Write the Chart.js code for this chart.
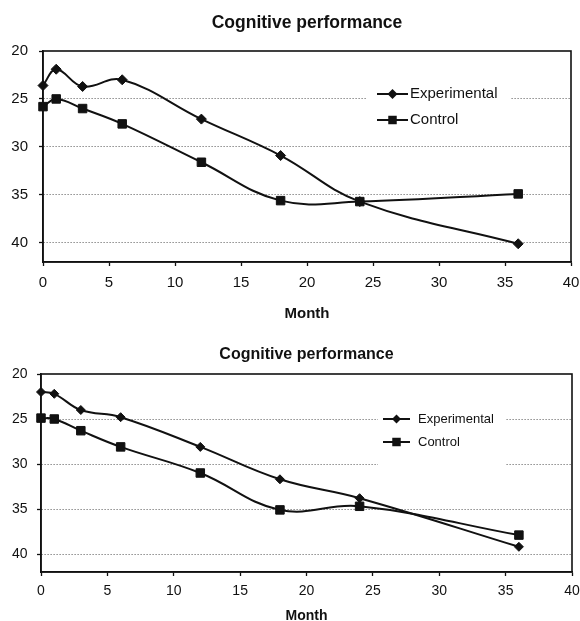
<!DOCTYPE html>
<html>
<head>
<meta charset="utf-8">
<script src="https://cdn.jsdelivr.net/npm/chart.js@4/dist/chart.umd.min.js"></script>
<style>
    html, body { margin: 0; padding: 0; background: #fff; overflow: hidden; }
    .box { position: absolute; left: 0; width: 580px; }
    #topBox { top: 0; height: 330px; }
    #bottomBox { top: 326px; height: 300px; }
</style>
</head>
<body>
<div class="box" id="topBox"><canvas id="topChart"></canvas></div>
<div class="box" id="bottomBox"><canvas id="bottomChart"></canvas></div>
<script>
// values
var months = [0, 1, 3, 6, 12, 18, 24, 36];
var topExperimental = [23.6, 21.9, 23.7, 23.0, 27.1, 30.9, 35.7, 40.1];
var topControl = [25.8, 25.0, 26.0, 27.6, 31.6, 35.6, 35.7, 34.9];
var bottomExperimental = [22.0, 22.2, 24.0, 24.8, 28.1, 31.7, 33.8, 39.2];
var bottomControl = [24.9, 25.0, 26.3, 28.1, 31.0, 35.1, 34.7, 37.9];
var xTicks = [0, 5, 10, 15, 20, 25, 30, 35, 40];
var yTicks = [20, 25, 30, 35, 40];
var seriesLabels = ["Experimental", "Control"];
var chartTitle = "Cognitive performance";
var xTitle = "Month";

Chart.defaults.font.family = "'Liberation Sans', Arial, sans-serif";
Chart.defaults.color = "#111";

/**
 * Legend box inside the plot plus the frame round the plot area
 */
var legendBox = {
    id: "legendBox",
    beforeDatasetsDraw: function (chart, args, opts) {
        var ctx = chart.ctx;
        var a = chart.chartArea;
        ctx.save();
        ctx.fillStyle = "#fff";
        ctx.fillRect(opts.x, opts.y, opts.w, opts.h);
        ctx.lineWidth = 1.6;
        ctx.strokeStyle = "#111";
        ctx.strokeRect(a.left, a.top, a.right - a.left, a.bottom - a.top);
        ctx.font = opts.fontSize + "px 'Liberation Sans', Arial, sans-serif";
        ctx.textBaseline = "middle";
        chart.data.datasets.forEach(function (ds, i) {
            var y = opts.rowY[i];
            var mx = (opts.lineX0 + opts.lineX1) / 2;
            var r = ds.pointRadius;
            ctx.strokeStyle = "#111";
            ctx.fillStyle = "#111";
            ctx.lineWidth = ds.borderWidth;
            ctx.beginPath();
            ctx.moveTo(opts.lineX0, y);
            ctx.lineTo(opts.lineX1, y);
            ctx.stroke();
            ctx.beginPath();
            if (ds.pointStyle == "rectRot") {
                ctx.moveTo(mx, y - r);
                ctx.lineTo(mx + r, y);
                ctx.lineTo(mx, y + r);
                ctx.lineTo(mx - r, y);
                ctx.closePath();
            } else {
                var s = r * Math.SQRT1_2;
                ctx.rect(mx - s, y - s, 2 * s, 2 * s);
            }
            ctx.fill();
            ctx.fillStyle = "#111";
            ctx.fillText(ds.label, opts.textX, y);
        });
        ctx.restore();
    }
};

function makeChart (canvasId, experimental, control, look) {
    function points(values) {
        return months.map(function (m, i) { return {x: m, y: values[i]}; });
    }
    var data = {
        datasets: [{
            label: seriesLabels[0],
            data: points(experimental),
            borderColor: "#111",
            borderWidth: 2,
            pointStyle: "rectRot",
            pointRadius: look.diamond,
            pointBackgroundColor: "#111",
            pointBorderColor: "#111",
            pointBorderWidth: 1,
            tension: 0.4,
            fill: false,
            clip: false
        }, {
            label: seriesLabels[1],
            data: points(control),
            borderColor: "#111",
            borderWidth: 2,
            pointStyle: "rect",
            pointRadius: look.square,
            pointBackgroundColor: "#111",
            pointBorderColor: "#111",
            pointBorderWidth: 1,
            tension: 0.4,
            fill: false,
            clip: false
        }]
    };
    var config = {
        type: "line",
        data: data,
        plugins: [legendBox],
        options: {
            responsive: true,
            maintainAspectRatio: false,
            animation: false,
            layout: {padding: 0},
            plugins: {
                legend: {display: false},
                tooltip: {enabled: false},
                title: {
                    display: true,
                    text: chartTitle,
                    fullSize: false,
                    color: "#111",
                    font: {size: look.titleSize, weight: "bold"},
                    padding: {top: look.titlePadTop, bottom: look.titlePadBottom}
                },
                legendBox: look.legend
            },
            scales: {
                x: {
                    type: "linear",
                    min: 0,
                    max: 40,
                    afterBuildTicks: function (s) { s.ticks = xTicks.map(function (v) { return {value: v}; }); },
                    afterFit: function (s) {
                        s.height = look.xHeight;
                        s.paddingRight = look.rightPad;
                        s.paddingLeft = 0;
                    },
                    ticks: {padding: look.xPad, font: {size: look.tickSize}, maxRotation: 0, autoSkip: false},
                    grid: {drawOnChartArea: false, tickLength: 4, tickColor: "#111", tickWidth: 1.3},
                    border: {color: "#111", width: 1.6},
                    title: {
                        display: true,
                        text: xTitle,
                        color: "#111",
                        font: {size: look.monthSize, weight: "bold"},
                        padding: {top: 4, bottom: look.monthPad}
                    }
                },
                y: {
                    reverse: true,
                    min: 20,
                    max: 42,
                    afterBuildTicks: function (s) { s.ticks = yTicks.map(function (v) { return {value: v}; }); },
                    afterFit: function (s) { s.width = look.yWidth; },
                    ticks: {padding: look.yPad, font: {size: look.tickSize}},
                    grid: {
                        color: function (c) { return c.tick && c.tick.value == 20 ? "rgba(0,0,0,0)" : "#555"; },
                        lineWidth: 1,
                        tickLength: 4,
                        tickColor: "#111",
                        tickWidth: 1.3,
                        tickBorderDash: []
                    },
                    border: {color: "#111", width: 1.6, dash: [1, 2]}
                }
            }
        }
    };
    return new Chart(document.getElementById(canvasId), config);
}

var topChart = makeChart("topChart", topExperimental, topControl, {
    titleSize: 17.5, titlePadTop: 12.5, titlePadBottom: 17.5,
    tickSize: 15, monthSize: 15, monthPad: 7,
    yWidth: 43, yPad: 11, xHeight: 68, xPad: 8, rightPad: 9,
    diamond: 5, square: 6,
    legend: {x: 366, y: 80, w: 145, h: 54, lineX0: 377, lineX1: 408, textX: 410, rowY: [94, 120], fontSize: 15}
});

var bottomChart = makeChart("bottomChart", bottomExperimental, bottomControl, {
    titleSize: 16, titlePadTop: 18.5, titlePadBottom: 10.3,
    tickSize: 14, monthSize: 14, monthPad: 1.6,
    yWidth: 41, yPad: 9.5, xHeight: 54, xPad: 6.6, rightPad: 8,
    diamond: 4.5, square: 6,
    legend: {x: 378, y: 79, w: 128, h: 65, lineX0: 383, lineX1: 410, textX: 418, rowY: [93, 116], fontSize: 13}
});
</script>
</body>
</html>
